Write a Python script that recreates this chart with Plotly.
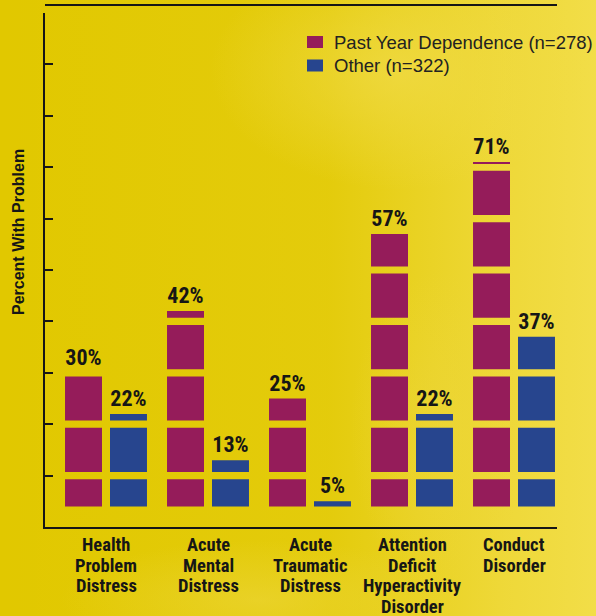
import base64
import plotly.graph_objects as go

# ---- data ----
categories = [
    "Health<br>Problem<br>Distress",
    "Acute<br>Mental<br>Distress",
    "Acute<br>Traumatic<br>Distress",
    "Attention<br>Deficit<br>Hyperactivity<br>Disorder",
    "Conduct<br>Disorder",
]
dependence = [30, 42, 25, 57, 71]
other = [22, 13, 5, 22, 37]
dep_name = "Past Year Dependence (n=278)"
oth_name = "Other (n=322)"
tick_vals = list(range(10, 101, 10))

# ---- style ----
PURPLE = "#951C5A"
BLUE = "#27458E"
INK = "#161616"
COND = "Roboto Condensed, Open Sans Condensed, DejaVu Sans Condensed, sans-serif"
SANS = "Liberation Sans, Arial, sans-serif"
GAP = 0.7        # half height of the yellow gaps (in %)
BOTTOM = 4.0     # bars start slightly above the axis

W, H = 596, 616
ML, MR, MT, MB = 45, 39, 13, 89
PW, PH = W - ML - MR, H - MT - MB


def px_x(px):
    return (px - ML) / PW


def px_y(py):
    return (H - MB - py) / PH


seg_starts = [BOTTOM] + [t + GAP for t in tick_vals[:-1]]
seg_ends = [t - GAP for t in tick_vals]

fig = go.Figure()

series = [(dependence, PURPLE, dep_name, "dep"), (other, BLUE, oth_name, "oth")]
for values, color, name, grp in series:
    for s, e in zip(seg_starts, seg_ends):
        h = [max(0, min(v, e) - s) for v in values]
        if not any(h):
            continue
        fig.add_trace(go.Bar(
            x=categories, y=h, base=s, marker_color=color, marker_line_width=0,
            offsetgroup=grp, name=name, showlegend=False, hoverinfo="skip",
        ))
    fig.add_trace(go.Bar(
        x=categories, y=values, offsetgroup=grp, showlegend=False, name=name,
        marker_color="rgba(0,0,0,0)", marker_line_width=0,
        text=[f"{v}%" for v in values], textposition="outside",
        constraintext="none",
        textfont=dict(family=COND, size=22, color=INK, weight="bold"),
        cliponaxis=False, hoverinfo="skip",
    ))

# background (soft yellow photo-like wash)
svg = f'''<svg xmlns="http://www.w3.org/2000/svg" width="{W}" height="{H}" viewBox="0 0 {W} {H}">
<defs>
<linearGradient id="lg" x1="0" y1="0" x2="1" y2="0">
<stop offset="0" stop-color="#F3DE4C" stop-opacity="0"/>
<stop offset="0.55" stop-color="#F3DE4C" stop-opacity="0.15"/>
<stop offset="0.85" stop-color="#F3DE4C" stop-opacity="0.75"/>
<stop offset="1" stop-color="#F4E050" stop-opacity="0.9"/>
</linearGradient>
<radialGradient id="r1" cx="0.5" cy="0.5" r="0.5">
<stop offset="0" stop-color="#F0DA44" stop-opacity="0.8"/>
<stop offset="1" stop-color="#F0DA44" stop-opacity="0"/>
</radialGradient>
<radialGradient id="r2" cx="0.5" cy="0.5" r="0.5">
<stop offset="0" stop-color="#EDD63A" stop-opacity="0.6"/>
<stop offset="1" stop-color="#EDD63A" stop-opacity="0"/>
</radialGradient>
</defs>
<rect width="{W}" height="{H}" fill="#E1C800"/>
<rect width="{W}" height="{H}" fill="url(#lg)"/>
<ellipse cx="400" cy="70" rx="190" ry="120" fill="url(#r1)"/>
<ellipse cx="440" cy="430" rx="90" ry="160" fill="url(#r2)"/>
<ellipse cx="260" cy="600" rx="200" ry="60" fill="url(#r2)"/>
</svg>'''
bg_uri = "data:image/svg+xml;base64," + base64.b64encode(svg.encode()).decode()

shapes = [dict(
    type="line", xref="paper", yref="paper",
    x0=0, x1=1, y0=px_y(5), y1=px_y(5),
    line=dict(color=INK, width=2),
)]
annotations = [dict(
    text="Percent With Problem", xref="paper", yref="paper",
    x=px_x(18), y=px_y(232), xanchor="center", yanchor="middle",
    textangle=-90, showarrow=False,
    font=dict(family=SANS, size=16, color=INK, weight="bold"),
)]

# legend (manual, to match the tight spacing)
for i, (values, color, name, grp) in enumerate(series):
    cy = 42 + i * 23.5
    shapes.append(dict(
        type="rect", xref="paper", yref="paper",
        x0=px_x(307), x1=px_x(323), y0=px_y(cy - 6), y1=px_y(cy + 6),
        fillcolor=color, line=dict(width=0),
    ))
    annotations.append(dict(
        text=name, xref="paper", yref="paper", x=px_x(332), y=px_y(cy),
        xanchor="left", yanchor="middle", showarrow=False,
        font=dict(family=SANS, size=18.5, color="#222222"),
    ))

# category labels, line by line
for cat in categories:
    for j, line in enumerate(cat.split("<br>")):
        annotations.append(dict(
            text=line, xref="x", yref="paper", x=cat, y=0,
            xanchor="center", yanchor="middle", yshift=-(18 + 20.6 * j),
            showarrow=False,
            font=dict(family=COND, size=18.5, color=INK, weight="bold"),
        ))

fig.update_layout(
    width=W, height=H,
    margin=dict(l=ML, r=MR, t=MT, b=MB, pad=0, autoexpand=False),
    paper_bgcolor="#E1C800",
    plot_bgcolor="rgba(0,0,0,0)",
    barmode="group",
    bargap=0.118,
    bargroupgap=0.178,
    hovermode=False,
    font=dict(family=SANS, color=INK),
    showlegend=False,
    xaxis=dict(
        range=[-(106 - ML) / 102, (W - MR - 106) / 102],
        showline=True, linecolor=INK, linewidth=2,
        ticks="", showgrid=False, zeroline=False,
        showticklabels=False, automargin=False, fixedrange=True,
    ),
    yaxis=dict(
        range=[0, 100],
        showline=True, linecolor=INK, linewidth=2,
        ticks="inside", ticklen=8, tickwidth=2, tickcolor=INK,
        tickvals=tick_vals, showticklabels=False, automargin=False,
        showgrid=False, zeroline=False, fixedrange=True,
    ),
    images=[dict(
        source=bg_uri, xref="paper", yref="paper",
        x=-ML / PW, y=1 + MT / PH, sizex=W / PW, sizey=H / PH,
        xanchor="left", yanchor="top", sizing="stretch", layer="below",
    )],
    shapes=shapes,
    annotations=annotations,
)

fig.write_html("out.html")
